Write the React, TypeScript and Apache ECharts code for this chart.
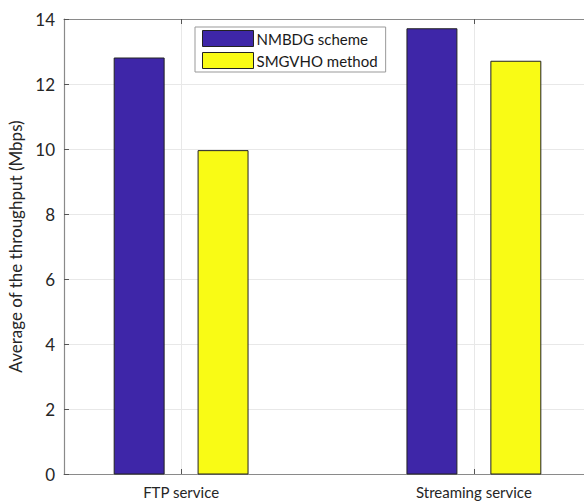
import React, { useEffect, useRef } from "react";
import * as echarts from "echarts";

const categories = ["FTP service", "Streaming service"];
const seriesNames = ["NMBDG scheme", "SMGVHO method"];
const nmbdgValues = [12.8, 13.7];
const smgvhoValues = [9.95, 12.7];
const yTicks = [0, 2, 4, 6, 8, 10, 12, 14];

const COLORS = ["#3E26A8", "#F9FB15"];
const FONT = "Lato";
const BAR_OFFSET = 0.1433;
const BAR_WIDTH = 0.1706;

function makeBarSeries(name: string, values: number[], idx: number, offset: number) {
  return {
    type: "custom",
    name,
    xAxisIndex: 0,
    yAxisIndex: 0,
    itemStyle: { color: COLORS[idx], borderColor: "#222", borderWidth: 1 },
    data: values.map((v, i) => [i + 1, v]),
    renderItem: (params: any, api: any) => {
      const x = api.value(0) + offset;
      const y = api.value(1);
      const p0 = api.coord([x - BAR_WIDTH / 2, y]);
      const p1 = api.coord([x + BAR_WIDTH / 2, 0]);
      return {
        type: "rect",
        shape: { x: p0[0], y: p0[1], width: p1[0] - p0[0], height: p1[1] - p0[1] },
        style: { fill: COLORS[idx], stroke: "#222", lineWidth: 1 },
      };
    },
  };
}

export default function App() {
  const ref = useRef<HTMLDivElement>(null);
  useEffect(() => {
    if (!ref.current) return;
    document.body.style.margin = "0";
    document.body.style.overflow = "hidden";
    const chart = echarts.init(ref.current, undefined, { renderer: "svg" });
    const xBase = {
      type: "value",
      min: 0.6,
      max: 2.4,
      gridIndex: 0,
      axisLine: { show: true, lineStyle: { color: "#8a8a8a", width: 1.2 } },
      axisTick: { show: true, inside: true, length: 5, customValues: [1, 2], lineStyle: { color: "#555" } },
      splitLine: { show: false },
    };
    chart.setOption({
      animation: false,
      backgroundColor: "#ffffff",
      grid: { left: 64, top: 19, width: 527, height: 455, containLabel: false, outerBoundsMode: "none" },
      legend: {
        orient: "vertical",
        left: 195,
        top: 27,
        itemWidth: 51,
        itemHeight: 16,
        itemGap: 5,
        padding: [3, 8, 3, 7],
        borderColor: "#999",
        borderWidth: 1,
        backgroundColor: "#fff",
        icon: "rect",
        textStyle: { fontFamily: FONT, fontSize: 15, color: "#1a1a1a", padding: [0, 0, 0, -2] },
        data: seriesNames.map((n, i) => ({
          name: n,
          itemStyle: { color: COLORS[i], borderColor: "#222", borderWidth: 1 },
        })),
      },
      xAxis: [
        {
          ...xBase,
          position: "bottom",
          axisLabel: {
            show: true,
            customValues: [1, 2],
            formatter: (v: number) => categories[Math.round(v) - 1] ?? "",
            fontFamily: FONT,
            fontSize: 15,
            lineHeight: 17,
            color: "#262626",
            margin: 9,
          },
          splitLine: { show: true, lineStyle: { color: "#e8e8e8", width: 1 } },
        },
        {
          ...xBase,
          position: "top",
          axisLabel: { show: false },
        },
      ],
      yAxis: [
        {
          type: "value",
          min: 0,
          max: 14,
          interval: 2,
          name: "Average of the throughput (Mbps)",
          nameLocation: "middle",
          nameGap: 35,
          nameTextStyle: { fontFamily: FONT, fontSize: 17, color: "#262626" },
          axisLine: { show: true, lineStyle: { color: "#8a8a8a", width: 1.2 } },
          axisTick: { show: true, inside: true, length: 5, lineStyle: { color: "#555" } },
          axisLabel: {
            fontFamily: FONT,
            fontSize: 17,
            color: "#262626",
            margin: 9,
            customValues: yTicks,
            padding: [4, 0, 0, 0],
          },
          splitLine: { show: true, lineStyle: { color: "#e8e8e8", width: 1 } },
        },
      ],
      series: [
        makeBarSeries(seriesNames[0], nmbdgValues, 0, -BAR_OFFSET),
        makeBarSeries(seriesNames[1], smgvhoValues, 1, BAR_OFFSET),
      ],
    });
    return () => chart.dispose();
  }, []);
  return (
    <div
      ref={ref}
      style={{ width: 584, height: 502, position: "absolute", left: 0, top: 0, overflow: "hidden" }}
    />
  );
}
